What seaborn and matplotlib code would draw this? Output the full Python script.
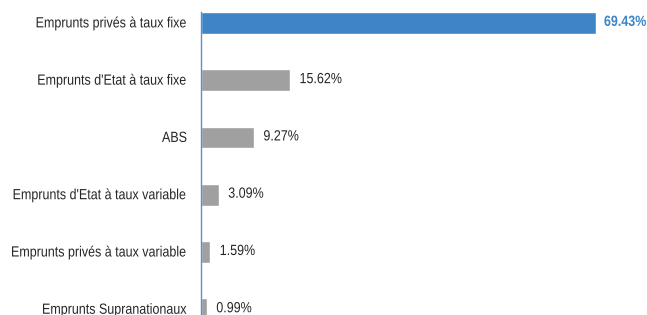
import matplotlib
matplotlib.use("Agg")
import matplotlib.pyplot as plt
import matplotlib.patheffects as pe
from matplotlib.transforms import Affine2D
import seaborn as sns
import pandas as pd

categories = ["Emprunts privés à taux fixe", "Emprunts d'Etat à taux fixe", "ABS",
              "Emprunts d'Etat à taux variable", "Emprunts privés à taux variable",
              "Emprunts Supranationaux"]
values = [69.43, 15.62, 9.27, 3.09, 1.59, 0.99]
labels = ["69.43%", "15.62%", "9.27%", "3.09%", "1.59%", "0.99%"]

sns.set_style("white")
plt.rcParams['font.family'] = ['Liberation Sans', 'DejaVu Sans']


class Tall(pe.AbstractPathEffect):
    """Stretch glyphs vertically to mimic a condensed typeface."""
    def __init__(self, sy=1.18):
        super().__init__()
        self.sy = sy

    def draw_path(self, renderer, gc, tpath, affine, rgbFace=None):
        renderer.draw_path(gc, tpath, Affine2D().scale(1, self.sy) + affine, rgbFace)


tall = [Tall(1.18)]

df = pd.DataFrame({"cat": categories, "val": values})
colors = ["#3d85c6"] + ["#a0a0a0"] * (len(categories) - 1)

fig = plt.figure(figsize=(6.47, 3.15), dpi=100)
ax = fig.add_axes([201/647, 0, 446/647, 303/315])
sns.barplot(data=df, y="cat", x="val", hue="cat", palette=colors, legend=False,
            orient="h", width=0.38, ax=ax, saturation=1)
ax.set_xlim(0, 78.4)
ax.set_ylim(5.1, -0.19)
ax.set_xlabel("")
ax.set_ylabel("")
ax.set_xticks([])
for s in ["top", "right", "bottom"]:
    ax.spines[s].set_visible(False)
ax.spines["left"].set_color("#5b8fd0")
ax.spines["left"].set_linewidth(1.0)
ax.tick_params(axis="y", length=0, pad=10, labelsize=9, labelcolor="#262626")
for t in ax.get_yticklabels():
    t.set_path_effects(tall)
for i, (v, lab) in enumerate(zip(values, labels)):
    if i == 0:
        ax.text(v + 1.4, i, lab, va="center", ha="left", fontsize=9,
                color="#3d85c6", fontweight="bold", path_effects=tall)
    else:
        ax.text(v + 1.7, i, lab, va="center", ha="left", fontsize=9,
                color="#262626", path_effects=tall)
fig.savefig("out.png", dpi=100)
